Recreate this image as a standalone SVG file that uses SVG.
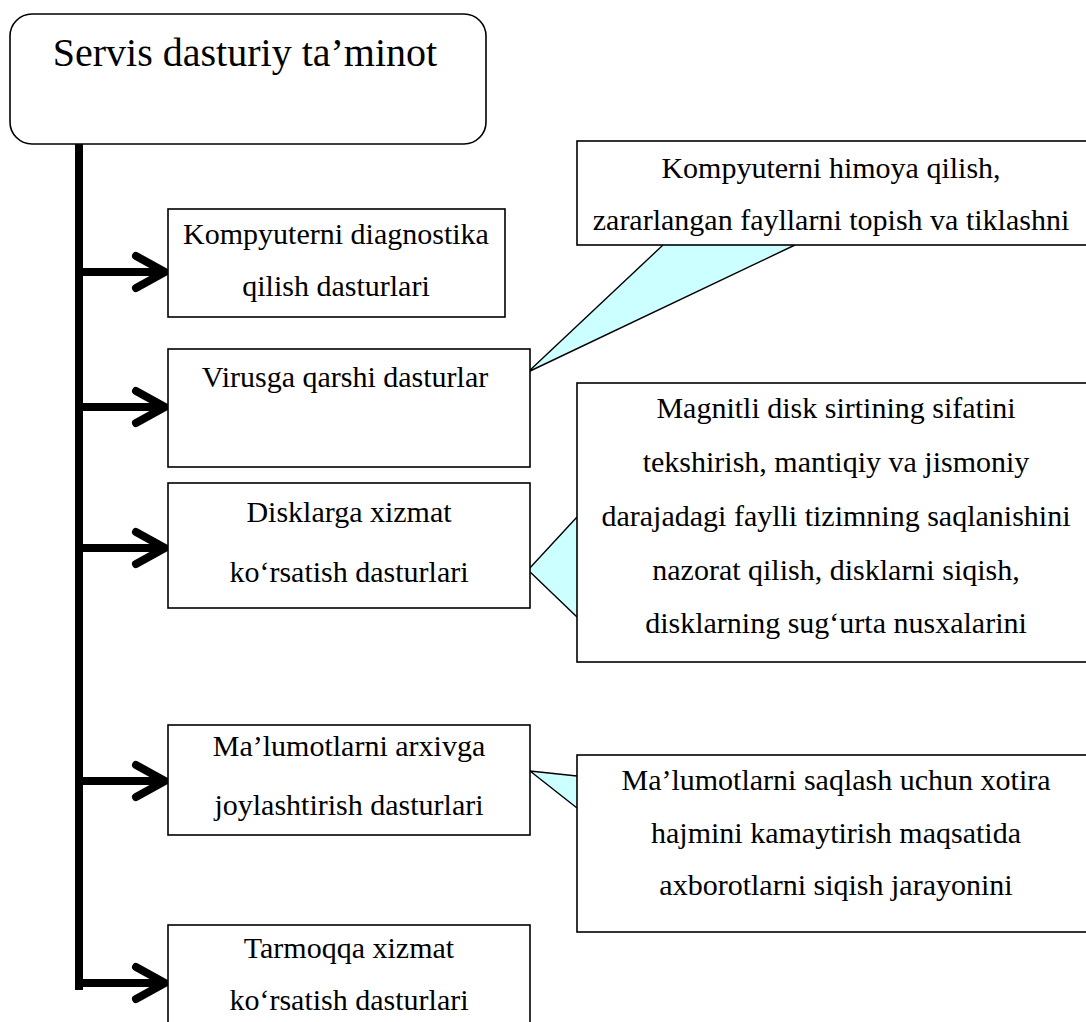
<svg xmlns="http://www.w3.org/2000/svg" width="1086" height="1022" viewBox="0 0 1086 1022">
  <style>
    .box { fill: #ffffff; stroke: #000000; stroke-width: 1.6; }
    .txt { font-family: "Liberation Serif", "Times New Roman", serif; font-size: 30px; fill: #000000; text-anchor: middle; }
    .title { font-size: 40px; }
    .trunk { stroke: #000000; stroke-width: 8; fill: none; }
    .arrow { stroke: #000000; stroke-width: 8; fill: none; stroke-linecap: round; stroke-linejoin: miter; }
    .ptr { fill: #ccffff; stroke: none; }
    .ptr-edge { fill: none; stroke: #000000; stroke-width: 1.4; }
  </style>
  <rect width="1086" height="1022" fill="#ffffff"/>

  <!-- root node -->
  <g id="root">
    <rect class="box" x="10" y="14" width="476" height="130" rx="22" ry="22"/>
    <text class="txt title" x="245" y="66">Servis dasturiy ta’minot</text>
  </g>

  <!-- trunk and branch arrows -->
  <g id="connectors">
    <path class="trunk" d="M79 144 V986 H83"/>
    <path class="arrow" d="M79 272 H163 M136 256 L165 272 L136 288"/>
    <path class="arrow" d="M79 407 H163 M136 391 L165 407 L136 423"/>
    <path class="arrow" d="M79 548 H163 M136 532 L165 548 L136 564"/>
    <path class="arrow" d="M79 781 H163 M136 765 L165 781 L136 797"/>
    <path class="arrow" d="M79 983 H163 M136 967 L165 983 L136 999"/>
  </g>

  <!-- callout pointers -->
  <g id="pointers">
    <polygon class="ptr" points="663,245 528,372 795,245"/>
    <polyline class="ptr-edge" points="663,245 528,372 795,245"/>
    <polygon class="ptr" points="577,517 528,570 577,617"/>
    <polyline class="ptr-edge" points="577,517 528,570 577,617"/>
    <polygon class="ptr" points="577,776 530,771 577,808"/>
    <polyline class="ptr-edge" points="577,776 530,771 577,808"/>
  </g>

  <g id="diagnostika">
    <rect class="box" x="168" y="209" width="337" height="108"/>
    <text class="txt" x="336" y="244">Kompyuterni diagnostika</text>
    <text class="txt" x="336" y="296">qilish dasturlari</text>
  </g>

  <g id="antivirus">
    <rect class="box" x="168" y="349" width="362" height="118"/>
    <text class="txt" x="345" y="387">Virusga qarshi dasturlar</text>
  </g>

  <g id="disk-service">
    <rect class="box" x="168" y="483" width="362" height="125"/>
    <text class="txt" x="349" y="522">Disklarga xizmat</text>
    <text class="txt" x="349" y="582">ko‘rsatish dasturlari</text>
  </g>

  <g id="archive">
    <rect class="box" x="168" y="725" width="362" height="110"/>
    <text class="txt" x="349" y="756">Ma’lumotlarni arxivga</text>
    <text class="txt" x="349" y="815">joylashtirish dasturlari</text>
  </g>

  <g id="network">
    <rect class="box" x="168" y="925" width="362" height="110"/>
    <text class="txt" x="349" y="958">Tarmoqqa xizmat</text>
    <text class="txt" x="349" y="1010">ko‘rsatish dasturlari</text>
  </g>

  <g id="note-antivirus">
    <rect class="box" x="577" y="141" width="520" height="104"/>
    <text class="txt" x="831" y="178">Kompyuterni himoya qilish,</text>
    <text class="txt" x="831" y="230">zararlangan fayllarni topish va tiklashni</text>
  </g>

  <g id="note-disk">
    <rect class="box" x="577" y="383" width="520" height="279"/>
    <text class="txt" x="836" y="418">Magnitli disk sirtining sifatini</text>
    <text class="txt" x="836" y="472">tekshirish, mantiqiy va jismoniy</text>
    <text class="txt" x="836" y="526">darajadagi faylli tizimning saqlanishini</text>
    <text class="txt" x="836" y="580">nazorat qilish, disklarni siqish,</text>
    <text class="txt" x="836" y="633">disklarning sug‘urta nusxalarini</text>
  </g>

  <g id="note-archive">
    <rect class="box" x="577" y="755" width="520" height="177"/>
    <text class="txt" x="836" y="790">Ma’lumotlarni saqlash uchun xotira</text>
    <text class="txt" x="836" y="843">hajmini kamaytirish maqsatida</text>
    <text class="txt" x="836" y="895">axborotlarni siqish jarayonini</text>
  </g>
</svg>
